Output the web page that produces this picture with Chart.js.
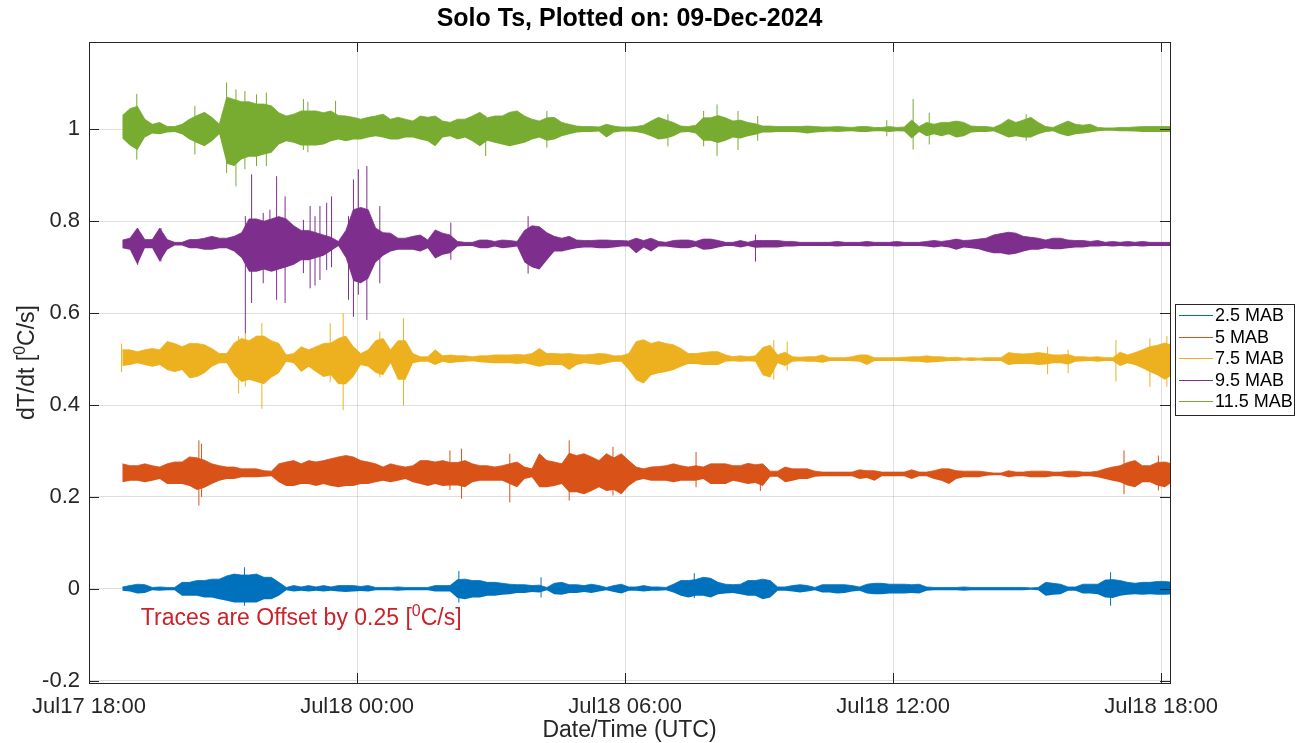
<!DOCTYPE html>
<html>
<head>
<meta charset="utf-8">
<title>Solo Ts</title>
<script src="https://cdn.jsdelivr.net/npm/chart.js@4.4.1/dist/chart.umd.min.js"></script>
<style>
    html, body { margin: 0; padding: 0; background: #fff; }
    #wrap { width: 1296px; height: 743px; }
</style>
</head>
<body>
<div id="wrap"><canvas id="grafico" width="1296" height="743"></canvas></div>
<script>
"use strict";

// dT/dt traces. Dense part: max/min per 10-minute bin, in 0.001 degC/s relative to the trace offset.
// first bin starts Jul17 18:40 (40 min after the left axis limit)
const firstBinMin = 40;
const binMin = 10;

const traceLabels = ["2.5 MAB", "5 MAB", "7.5 MAB", "9.5 MAB", "11.5 MAB"];
const traceColors = ["#0072BD", "#D95319", "#EDB120", "#7E2F8E", "#77AC30"];
const offsets = [0, 0.25, 0.5, 0.75, 1];

const up25 = [4,7,10,9,3,4,3,3,14,14,18,18,21,21,28,32,30,30,32,25,25,14,3,7,4,7,4,7,4,7,7,7,5,7,
    3,3,3,4,3,3,3,3,7,7,7,20,21,18,18,14,14,12,10,9,9,7,8,3,12,14,9,9,7,10,7,3,7,10,4,4,
    7,4,4,3,10,18,18,20,25,23,14,10,9,10,18,18,21,18,4,4,7,9,7,3,9,9,9,9,7,4,10,12,12,10,10,10,
    9,10,4,3,3,3,3,4,3,3,3,3,3,3,3,3,2,3,14,12,10,4,4,10,10,10,19,20,18,14,12,14,14,16,16,14];
const dn25 = [4,6,10,9,3,4,3,3,15,15,15,19,19,23,26,30,30,30,30,23,23,15,3,6,4,6,4,6,4,6,7,6,5,6,
    3,3,3,4,3,3,3,3,6,6,6,20,23,19,19,15,15,13,12,9,9,7,8,3,12,13,9,9,7,9,6,3,7,10,4,4,
    6,4,4,3,8,15,19,15,15,19,12,10,9,12,15,15,23,19,4,4,6,8,6,3,8,8,10,9,6,4,10,12,12,10,10,10,
    9,10,4,3,3,3,3,4,3,3,3,3,3,3,3,3,2,3,15,13,12,4,4,10,10,12,19,20,15,13,12,13,12,13,13,12];

const up5 = [22,18,18,22,18,15,22,26,26,37,35,30,22,18,15,15,11,11,11,7,6,22,26,29,22,29,26,29,33,37,40,37,29,26,
    22,15,22,18,15,18,29,29,26,29,25,25,29,22,18,18,15,18,22,26,15,11,44,29,26,22,45,40,44,37,29,44,35,44,29,15,
    11,15,16,18,22,18,15,18,15,22,22,22,18,18,23,20,22,6,6,15,11,11,11,6,4,4,4,4,4,9,7,7,4,4,4,4,
    9,4,4,7,11,11,7,6,6,6,4,2,2,7,4,4,6,6,6,4,4,6,6,4,4,6,11,15,18,25,29,18,18,25,26,22];
const dn5 = [18,15,15,18,15,11,22,22,22,26,35,30,22,15,11,11,7,7,7,6,5,18,26,26,22,22,26,22,26,29,26,26,22,22,
    18,15,18,15,11,18,22,26,22,26,25,25,29,18,15,15,15,15,22,29,11,7,29,29,26,22,40,40,44,37,29,37,35,44,26,15,
    11,15,15,15,18,15,15,15,11,22,22,22,15,18,22,20,26,6,6,18,15,11,11,6,5,5,5,5,5,11,9,15,5,5,5,5,
    11,5,5,11,15,22,11,7,7,7,4,3,3,7,5,5,7,7,7,5,5,7,7,5,5,7,11,15,18,25,29,18,18,25,29,18];

const up75 = [20,20,16,20,23,20,38,34,27,34,34,31,23,12,12,35,45,40,50,50,40,34,9,12,27,20,27,34,35,45,50,27,12,20,
    40,45,20,40,40,12,5,5,20,7,9,7,7,5,7,7,9,9,9,10,9,12,23,12,12,11,12,10,9,10,12,11,7,7,12,38,
    42,34,38,34,31,23,12,12,14,16,16,9,5,7,5,7,25,30,9,15,5,4,5,5,9,3,3,3,5,9,9,3,3,3,3,4,
    5,5,7,5,5,3,4,2,3,2,3,3,3,14,12,11,12,14,12,9,9,10,5,5,4,5,3,3,15,9,14,20,27,30,35,30];
const dn75 = [15,13,9,13,17,13,24,28,24,42,39,31,17,9,9,35,50,45,50,55,40,31,6,9,28,17,28,39,35,55,55,39,13,17,
    30,35,9,45,45,9,6,6,13,6,9,7,6,5,7,8,9,9,9,11,9,13,17,13,13,13,24,13,9,11,13,9,6,6,24,46,
    53,35,31,28,24,17,11,11,13,13,13,6,5,6,5,6,35,40,9,15,6,5,6,6,8,4,4,4,5,6,13,4,4,4,4,5,
    6,6,8,7,6,4,4,3,4,3,4,4,4,13,11,11,11,13,12,9,9,12,6,5,4,6,4,4,15,9,13,20,28,35,45,35];

const up95 = [9,13,35,10,10,35,10,4,4,10,10,13,17,13,13,17,25,55,55,50,55,60,55,40,30,30,25,20,15,6,30,75,80,75,
    35,25,24,13,13,17,20,9,31,24,20,6,4,4,9,9,6,9,8,6,30,40,38,25,17,13,17,9,8,8,9,9,8,8,7,13,
    8,13,6,4,8,9,9,6,11,11,8,4,4,8,4,8,8,8,8,6,6,4,4,4,4,4,6,4,4,4,6,4,4,4,6,4,
    4,4,6,8,6,8,11,8,9,11,13,20,23,26,24,17,15,13,9,13,13,9,8,8,6,8,4,6,4,6,4,6,4,4,4,4];
const dn95 = [9,12,45,9,9,38,12,3,3,9,9,12,12,9,9,16,30,60,60,55,60,55,50,45,35,35,30,25,15,4,30,80,85,75,
    40,25,16,12,12,12,16,9,31,23,20,5,4,4,9,9,5,9,7,5,40,50,55,35,16,16,12,9,7,7,9,9,7,5,5,20,
    7,16,5,5,7,9,9,5,12,11,7,4,4,7,4,8,7,7,7,5,5,4,4,4,4,4,5,4,4,4,5,4,4,4,5,4,
    4,4,5,7,5,7,12,7,9,11,16,20,20,23,21,16,12,12,9,11,11,9,7,7,5,5,4,5,4,5,4,5,4,4,4,4];

const up115 = [30,45,50,22,11,15,6,6,11,22,30,37,26,11,70,65,60,60,55,55,51,36,29,33,40,40,40,36,40,30,29,26,22,26,
    29,33,22,26,22,18,29,26,29,18,15,22,22,29,37,25,29,29,37,40,29,22,18,25,26,15,11,7,6,6,5,11,7,5,5,6,
    9,18,26,20,15,7,6,9,25,25,30,25,18,20,15,12,7,7,6,6,6,6,7,6,5,5,6,5,4,6,6,4,4,6,4,5,
    20,6,15,11,15,15,18,15,7,6,6,4,11,22,15,20,26,15,6,4,11,18,11,9,11,4,3,3,4,4,5,6,6,6,6,6];
const dn115 = [20,35,45,18,9,11,7,6,11,22,30,37,26,11,75,80,65,60,60,55,51,33,26,29,35,35,35,33,26,22,26,22,22,18,
    15,18,22,22,18,18,22,26,37,18,15,22,18,26,37,25,29,33,37,33,29,22,18,25,22,15,11,7,6,6,5,18,7,5,5,6,
    9,15,22,20,15,7,6,9,25,25,30,25,18,20,15,12,7,7,6,6,6,7,9,7,6,5,6,5,4,6,6,4,4,6,4,5,
    20,6,15,11,15,11,18,15,7,6,6,4,11,18,15,18,18,11,6,4,11,15,11,9,7,4,3,3,4,4,5,6,6,6,6,6];

// isolated spikes: [hours after Jul17 18:00, top, bottom] in degC/s (offset included)
const spk25 = [[3.48, 0.047, -0.037], [8.28, 0.039, -0.030], [10.12, 0.025, -0.019], [13.55, 0.034, -0.020], [22.87, 0.036, -0.037]];
const spk5 = [[2.46, 0.323, 0.181], [2.52, 0.316, 0.200], [8.08, 0.301, 0.215], [8.34, 0.305, 0.196], [9.42, 0.294, 0.188],
    [10.75, 0.323, 0.192], [11.73, 0.309, 0.203], [13.59, 0.298, 0.221], [15.03, 0.270, 0.213], [23.17, 0.301, 0.206], [23.94, 0.290, 0.214]];
const spk75 = [[0.73, 0.534, 0.472], [3.35, 0.550, 0.425], [3.50, 0.556, 0.440], [3.87, 0.578, 0.392], [5.40, 0.578, 0.450],
    [5.69, 0.600, 0.389], [6.51, 0.560, 0.460], [7.04, 0.589, 0.399], [15.33, 0.541, 0.455], [15.63, 0.538, 0.475],
    [21.46, 0.527, 0.467], [21.92, 0.520, 0.469], [22.99, 0.541, 0.451], [23.75, 0.545, 0.440], [24.13, 0.550, 0.440]];
const spk95 = [[1.09, 0.785, 0.705], [1.61, 0.785, 0.712], [3.50, 0.811, 0.556], [3.64, 0.902, 0.622], [3.90, 0.818, 0.665],
    [4.05, 0.825, 0.700], [4.20, 0.898, 0.629], [4.39, 0.854, 0.622], [4.80, 0.803, 0.687], [4.95, 0.833, 0.654],
    [5.06, 0.811, 0.660], [5.17, 0.833, 0.672], [5.32, 0.840, 0.694], [5.43, 0.854, 0.700], [5.81, 0.811, 0.629],
    [5.92, 0.891, 0.592], [6.03, 0.913, 0.640], [6.22, 0.920, 0.585], [6.51, 0.833, 0.665], [8.10, 0.797, 0.716],
    [9.83, 0.811, 0.686], [14.92, 0.771, 0.712]];
const spk115 = [[1.07, 1.077, 0.934], [2.37, 1.051, 0.945], [3.08, 1.102, 0.905], [3.29, 1.087, 0.876], [3.49, 1.083, 0.913],
    [3.75, 1.076, 0.920], [3.97, 1.080, 0.920], [4.80, 1.066, 0.955], [4.90, 1.060, 0.950], [5.52, 1.062, 0.978],
    [8.88, 1.030, 0.942], [10.25, 1.040, 0.960], [12.96, 1.033, 0.963], [13.76, 1.040, 0.963], [14.06, 1.054, 0.942],
    [14.53, 1.040, 0.955], [14.97, 1.029, 0.975], [17.86, 1.020, 0.985], [18.45, 1.066, 0.956], [18.81, 1.036, 0.967],
    [20.98, 1.033, 0.975]];

const upArrays = [up25, up5, up75, up95, up115];
const dnArrays = [dn25, dn5, dn75, dn95, dn115];
const spikeArrays = [spk25, spk5, spk75, spk95, spk115];

// axes: x in hours after Jul17 18:00
const xMax = 24.2;
const xTicks = [0, 6, 12, 18, 24];
const xTickLabels = ["Jul17 18:00", "Jul18 00:00", "Jul18 06:00", "Jul18 12:00", "Jul18 18:00"];
const yMin = -0.205, yMax = 1.19;
const yTicks = [-0.2, 0, 0.2, 0.4, 0.6, 0.8, 1];

const titleText = "Solo Ts, Plotted on: 09-Dec-2024";
const xLabel = "Date/Time (UTC)";
const yLabelParts = ["dT/dt [", "0", "C/s]"];
const noteParts = ["Traces are Offset by 0.25 [", "0", "C/s]"];
const noteX = 1.16, noteY = -0.079;

const FONT = "'Liberation Sans', Arial, Helvetica, sans-serif";
const AX = "#262626";
const GRID = "rgba(38,38,38,0.15)";
const TICK = 10;

// closed band: bin maxima left to right, then bin minima right to left
function buildBand(up, dn, off) {
    const mid = i => (firstBinMin + i * binMin + binMin / 2) / 60;
    const pts = up.map((u, i) => ({ x: mid(i), y: off + u / 1000 }));
    for (let i = dn.length - 1; i >= 0; i--) pts.push({ x: mid(i), y: off - dn[i] / 1000 });
    return pts;
}

// vertical strokes, broken by null points
function buildSpikes(spk) {
    const pts = [];
    spk.forEach(([h, hi, lo]) => {
        pts.push({ x: h, y: lo }, { x: h, y: hi }, { x: h, y: null });
    });
    return pts;
}

// text with a raised "0" like MATLAB's ^0
function drawSup(ctx, parts, x, y, size, align) {
    const big = `${size}px ${FONT}`, small = `${Math.round(size * 0.7)}px ${FONT}`;
    ctx.font = big; const w1 = ctx.measureText(parts[0]).width, w3 = ctx.measureText(parts[2]).width;
    ctx.font = small; const w2 = ctx.measureText(parts[1]).width;
    let x0 = x;
    if (align === "center") x0 = x - (w1 + w2 + w3) / 2;
    ctx.textAlign = "left"; ctx.textBaseline = "alphabetic";
    ctx.font = big; ctx.fillText(parts[0], x0, y);
    ctx.font = small; ctx.fillText(parts[1], x0 + w1, y - size * 0.4);
    ctx.font = big; ctx.fillText(parts[2], x0 + w1 + w2, y);
}

const decor = {
    id: "decor",
    afterDatasetsDraw(chart) {
        const { ctx, chartArea: a, scales: { x, y } } = chart;
        ctx.save();
        ctx.strokeStyle = AX; ctx.lineWidth = 1;
        ctx.beginPath();
        xTicks.forEach(v => {
            const px = Math.round(x.getPixelForValue(v)) + 0.5;
            ctx.moveTo(px, a.bottom); ctx.lineTo(px, a.bottom - TICK);
            ctx.moveTo(px, a.top); ctx.lineTo(px, a.top + TICK);
        });
        yTicks.forEach(v => {
            const py = Math.round(y.getPixelForValue(v)) + 0.5;
            ctx.moveTo(a.left, py); ctx.lineTo(a.left + TICK, py);
            ctx.moveTo(a.right, py); ctx.lineTo(a.right - TICK, py);
        });
        ctx.stroke();
        ctx.strokeRect(Math.round(a.left) + 0.5, Math.round(a.top) + 0.5, Math.round(a.right - a.left), Math.round(a.bottom - a.top));

        ctx.fillStyle = "#CC2229";
        drawSup(ctx, noteParts, x.getPixelForValue(noteX), y.getPixelForValue(noteY), 23, "left");
        ctx.restore();
    },
    afterDraw(chart) {
        const { ctx, chartArea: a } = chart;
        const cx = (a.left + a.right) / 2, cy = (a.top + a.bottom) / 2;
        ctx.save();
        ctx.fillStyle = "#000"; ctx.textAlign = "center"; ctx.textBaseline = "middle";
        ctx.font = `bold 25px ${FONT}`;
        ctx.fillText(titleText, cx, 19);

        ctx.fillStyle = AX;
        ctx.font = `23px ${FONT}`;
        ctx.fillText(xLabel, cx, 731);

        ctx.save();
        ctx.translate(26, cy); ctx.rotate(-Math.PI / 2);
        drawSup(ctx, yLabelParts, 0, 8, 23, "center");
        ctx.restore();

        // legend box outside the axes, right side
        const lx = 1175, ly = 304, lw = 119, lh = 111;
        ctx.fillStyle = "#fff"; ctx.fillRect(lx, ly, lw, lh);
        ctx.strokeStyle = AX; ctx.lineWidth = 1;
        ctx.strokeRect(lx + 0.5, ly + 0.5, lw, lh);
        ctx.font = `18px ${FONT}`; ctx.textAlign = "left"; ctx.textBaseline = "middle";
        chart.data.datasets.filter(ds => !ds.isSpikes).forEach((ds, k) => {
            const ry = Math.round(ly + 11 + k * 21.5) + 0.5;
            ctx.strokeStyle = ds.borderColor;
            ctx.beginPath(); ctx.moveTo(lx + 4, ry); ctx.lineTo(lx + 38, ry); ctx.stroke();
            ctx.fillStyle = "#000";
            ctx.fillText(ds.label, lx + 40, ry + 1);
        });
        ctx.restore();
    }
};

const datasets = [];
traceLabels.forEach((lab, k) => {
    datasets.push({
        label: lab,
        data: buildBand(upArrays[k], dnArrays[k], offsets[k]),
        borderColor: traceColors[k],
        backgroundColor: traceColors[k],
        borderWidth: 0.8,
        pointRadius: 0,
        tension: 0,
        fill: "shape",
        order: -k,
        clip: 0
    });
    datasets.push({
        label: lab,
        isSpikes: true,
        data: buildSpikes(spikeArrays[k]),
        borderColor: traceColors[k],
        borderWidth: 1,
        pointRadius: 0,
        tension: 0,
        fill: false,
        spanGaps: false,
        order: -k,
        clip: 0
    });
});

new Chart(document.getElementById("grafico").getContext("2d"), {
    type: "line",
    data: { datasets },
    plugins: [decor],
    options: {
        responsive: false,
        animation: false,
        events: [],
        parsing: false,
        layout: { padding: { top: 42, right: 126, left: 0, bottom: 0 } },
        plugins: { legend: { display: false }, title: { display: false }, tooltip: { enabled: false } },
        scales: {
            x: {
                type: "linear", min: 0, max: xMax,
                afterBuildTicks: s => { s.ticks = xTicks.map(v => ({ value: v })); },
                afterFit: s => { s.height = 60; },
                grid: { color: GRID, lineWidth: 1, drawTicks: false },
                border: { display: false },
                ticks: {
                    autoSkip: false, maxRotation: 0, padding: 11, color: AX,
                    font: { family: FONT, size: 22 },
                    callback: v => xTickLabels[xTicks.indexOf(v)]
                }
            },
            y: {
                type: "linear", min: yMin, max: yMax,
                afterBuildTicks: s => { s.ticks = yTicks.map(v => ({ value: v })); },
                afterFit: s => { s.width = 89; },
                grid: { color: GRID, lineWidth: 1, drawTicks: false },
                border: { display: false },
                ticks: {
                    padding: 9, color: AX,
                    font: { family: FONT, size: 22 },
                    callback: v => String(v)
                }
            }
        }
    }
});
</script>
</body>
</html>
